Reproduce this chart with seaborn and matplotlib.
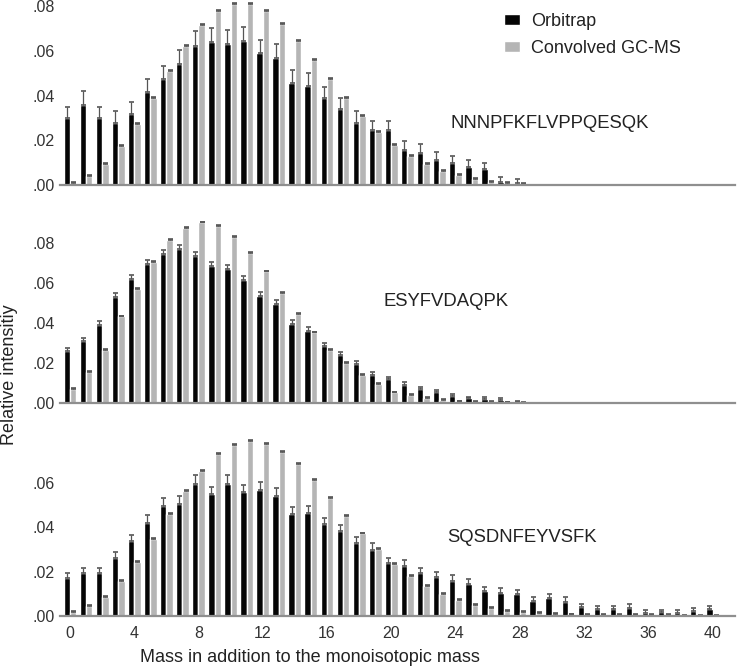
import numpy as np
import pandas as pd
import seaborn as sns
import matplotlib
matplotlib.use('Agg')
import matplotlib.pyplot as plt
from matplotlib.ticker import FuncFormatter

# Relative intensities (mass offset 0..n)
peptides = ['NNNPFKFLVPPQESQK', 'ESYFVDAQPK', 'SQSDNFEYVSFK']
sources = ['Orbitrap', 'Convolved GC-MS']

orbi1 = [0.030, 0.036, 0.030, 0.028, 0.032, 0.0415, 0.0474, 0.054, 0.0625, 0.064,
         0.063, 0.0644, 0.059, 0.057, 0.0456, 0.0444, 0.039, 0.034, 0.028, 0.0245,
         0.0245, 0.0158, 0.0144, 0.0114, 0.010, 0.0082, 0.007, 0.0015, 0.001]
gcms1 = [0.001, 0.004, 0.0094, 0.0174, 0.0274, 0.039, 0.051, 0.0625, 0.0716, 0.078,
         0.081, 0.081, 0.078, 0.0722, 0.0644, 0.056, 0.0474, 0.039, 0.031, 0.0237,
         0.018, 0.013, 0.0094, 0.0064, 0.0045, 0.0027, 0.0015, 0.001, 0.0006]
err1 = [0.005, 0.006, 0.005, 0.005, 0.005, 0.006, 0.006, 0.0065, 0.0065, 0.0065,
        0.0065, 0.0065, 0.006, 0.006, 0.006, 0.006, 0.005, 0.005, 0.005, 0.004,
        0.004, 0.004, 0.004, 0.0035, 0.003, 0.003, 0.003, 0.002, 0.0015]

orbi2 = [0.0258, 0.0308, 0.039, 0.053, 0.062, 0.0697, 0.0745, 0.077, 0.0737, 0.0683,
         0.067, 0.0617, 0.0533, 0.0497, 0.0397, 0.036, 0.0285, 0.0238, 0.0195, 0.0142,
         0.012, 0.0092, 0.007, 0.0053, 0.0033, 0.0023, 0.002, 0.0017, 0.0007]
gcms2 = [0.0072, 0.0155, 0.0267, 0.0433, 0.057, 0.0705, 0.0817, 0.0875, 0.0903, 0.0887,
         0.083, 0.075, 0.0658, 0.055, 0.0447, 0.0353, 0.0267, 0.020, 0.014, 0.0095,
         0.0053, 0.0042, 0.0025, 0.0017, 0.0008, 0.0007, 0.0005, 0.0003, 0.0002]
err2 = [0.0015, 0.0018, 0.002, 0.002, 0.002, 0.002, 0.002, 0.0022, 0.002, 0.002,
        0.002, 0.002, 0.002, 0.002, 0.002, 0.0018, 0.0016, 0.0015, 0.0015, 0.0013,
        0.0012, 0.0012, 0.001, 0.001, 0.001, 0.0008, 0.0008, 0.0006, 0.0005]

orbi3 = [0.017, 0.0192, 0.0192, 0.026, 0.0338, 0.0421, 0.0496, 0.0508, 0.0595, 0.0549,
         0.0598, 0.0558, 0.0568, 0.0543, 0.0459, 0.0463, 0.0414, 0.0383, 0.0328, 0.0298,
         0.0238, 0.0227, 0.0192, 0.0174, 0.0159, 0.0143, 0.0113, 0.0105, 0.0098, 0.0068,
         0.008, 0.0065, 0.0039, 0.0032, 0.003, 0.0038, 0.0015, 0.0018, 0.0015, 0.0024, 0.0032]
gcms3 = [0.002, 0.0045, 0.0087, 0.0158, 0.0245, 0.0347, 0.0459, 0.0565, 0.0656, 0.073,
         0.0771, 0.0791, 0.0779, 0.0741, 0.0686, 0.0613, 0.0534, 0.0453, 0.0373, 0.0301,
         0.0235, 0.0182, 0.0135, 0.0099, 0.0072, 0.005, 0.0035, 0.0024, 0.0017, 0.0012,
         0.0009, 0.0007, 0.0006, 0.0005, 0.0004, 0.0004, 0.0003, 0.0003, 0.0002, 0.0002, 0.0002]
err3 = [0.0025, 0.0025, 0.0025, 0.003, 0.003, 0.0035, 0.0035, 0.0035, 0.004, 0.0035,
        0.004, 0.0035, 0.0035, 0.0035, 0.0035, 0.0035, 0.003, 0.003, 0.003, 0.003,
        0.0025, 0.0025, 0.0025, 0.0025, 0.0025, 0.0025, 0.002, 0.002, 0.002, 0.002,
        0.002, 0.002, 0.0015, 0.0015, 0.0015, 0.0015, 0.001, 0.001, 0.001, 0.001, 0.0015]
gcms_err = 0.0004   # tiny caps on the grey bars

xticks = [0, 4, 8, 12, 16, 20, 24, 28, 32, 36, 40]

sns.set_style('white')
plt.rcParams['font.family'] = ['Liberation Sans', 'DejaVu Sans']


def make_frame(orbi, gcms, err):
    n = len(orbi)
    df = pd.DataFrame({
        'mass': list(range(n)) * 2,
        'intensity': orbi + gcms,
        'source': [sources[0]] * n + [sources[1]] * n,
        'err': err + [gcms_err] * n,
    })
    return df


frames = [make_frame(orbi1, gcms1, err1),
          make_frame(orbi2, gcms2, err2),
          make_frame(orbi3, gcms3, err3)]

fig = plt.figure(figsize=(7.4, 6.7), dpi=100)

# axes boxes in pixels: (top, bottom) of each panel
boxes = [(2, 185), (215, 403), (432, 616)]
ymaxs = [0.082, 0.094, 0.0831]
yticks = [[0, .02, .04, .06, .08], [0, .02, .04, .06, .08], [0, .02, .04, .06]]

axes = []
for i, df in enumerate(frames):
    top, bot = boxes[i]
    ax = fig.add_axes([60 / 740, 1 - bot / 670, 675 / 740, (bot - top) / 670])
    sns.barplot(data=df, x='mass', y='intensity', hue='source', hue_order=sources,
                order=list(range(41)), palette=['#050505', '#b5b5b5'],
                width=0.8, saturation=1, errorbar=None, ax=ax)

    # error bars, placed on the bars seaborn drew
    lookup = df.set_index(['source', 'mass'])['err']
    for src, cont in zip(sources, ax.containers):
        for bar in cont:
            h = bar.get_height()
            if np.isnan(h):
                continue
            xc = bar.get_x() + bar.get_width() / 2
            m = int(round(xc))
            e = lookup[(src, m)]
            ax.errorbar(xc, h, yerr=[[0], [e]], fmt='none', ecolor='#555555',
                        elinewidth=0.9, capsize=1.8, capthick=1.2, clip_on=False)

    ax.set_xlim(-0.62, 41.4)
    ax.set_ylim(0, ymaxs[i])
    ax.set_yticks(yticks[i])
    ax.yaxis.set_major_formatter(FuncFormatter(lambda v, p: ('%.2f' % v)[1:]))
    ax.tick_params(axis='y', length=0, pad=4, labelsize=11.5, labelcolor='#333333')
    for s in ['top', 'right', 'left']:
        ax.spines[s].set_visible(False)
    ax.spines['bottom'].set_color('#8f8f8f')
    ax.spines['bottom'].set_linewidth(1.6)
    ax.set_xlabel('')
    ax.set_ylabel('')
    if ax.get_legend() is not None:
        ax.get_legend().remove()
    if i < 2:
        ax.set_xticks([])
    else:
        ax.set_xticks(xticks)
        ax.set_xticklabels([str(t) for t in xticks])
        ax.tick_params(axis='x', length=0, pad=7, labelsize=11.5, labelcolor='#333333')
    axes.append(ax)

# legend in the top panel
handles, labels = axes[0].get_legend_handles_labels()
axes[0].legend(handles, labels, frameon=False, loc='upper left',
               bbox_to_anchor=(497 / 740, 1 - 6 / 670), bbox_transform=fig.transFigure,
               fontsize=13, handlelength=0.85, handleheight=0.55, handletextpad=0.65,
               labelspacing=0.55, borderaxespad=0, labelcolor='#222222')

# peptide names
label_pos = [(450, 123), (383, 302), (447, 537)]
for name, (px, py) in zip(peptides, label_pos):
    fig.text(px / 740, 1 - py / 670, name, ha='left', va='center',
             fontsize=13.3, color='#222222')

fig.text(10 / 740, 1 - 375 / 670, 'Relative intensitiy', rotation=90,
         ha='center', va='center', fontsize=13, color='#222222')
fig.text(310 / 740, 1 - 658 / 670, 'Mass in addition to the monoisotopic mass',
         ha='center', va='center', fontsize=13, color='#222222')

fig.savefig('out.png', dpi=100)
